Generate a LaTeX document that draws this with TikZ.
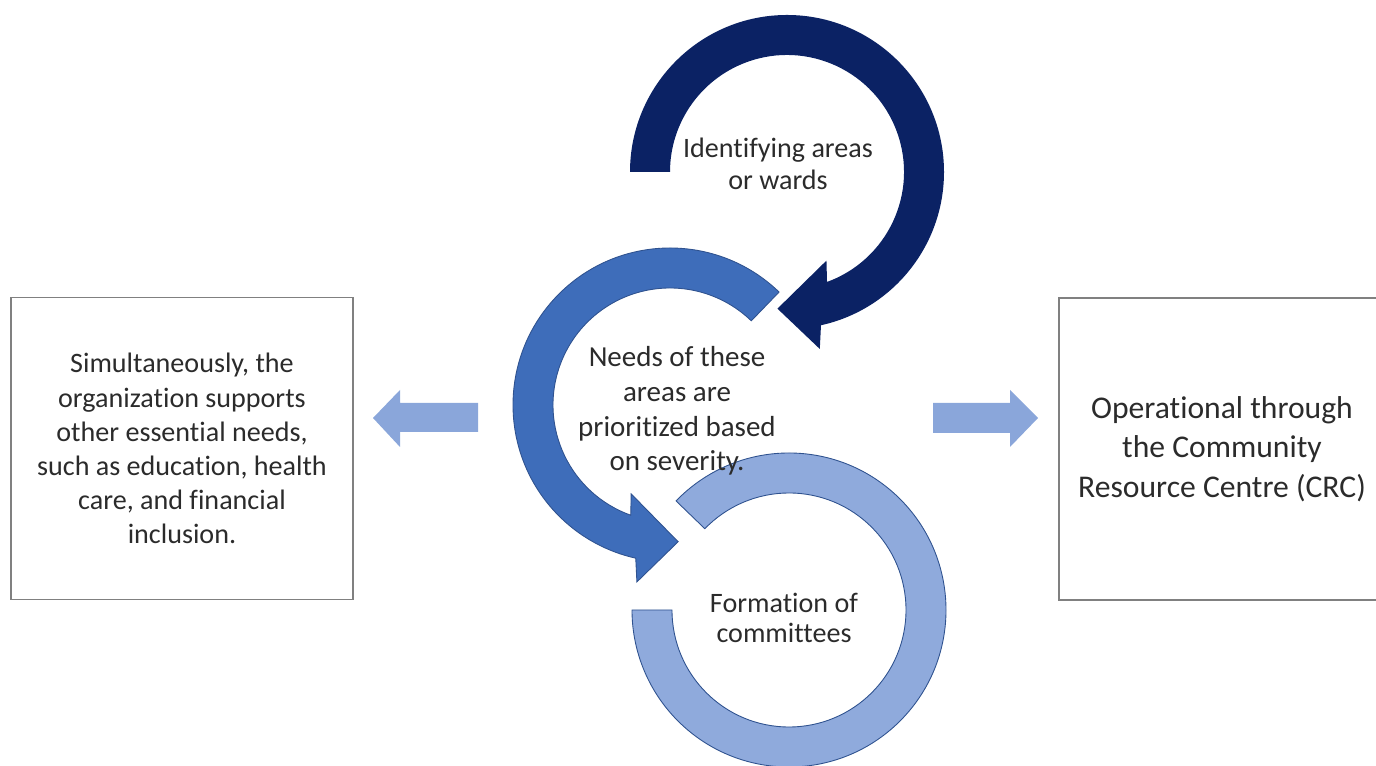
\documentclass[tikz,border=0pt]{standalone}
\usepackage{fontspec}
\setmainfont{Carlito}[Ligatures={NoCommon,NoDiscretionary}]
\definecolor{navy}{HTML}{0B2264}
\definecolor{midblue}{HTML}{3E6DBA}
\definecolor{lightblue}{HTML}{8FAADC}
\definecolor{arrowblue}{HTML}{8AA6DA}
\definecolor{ringline}{HTML}{2F528F}
\definecolor{boxgray}{HTML}{808080}
\definecolor{textgray}{HTML}{2B2B2B}
\begin{document}
\begin{tikzpicture}[x=0.02cm,y=0.02cm,
  ringtext/.style={align=center, text=textgray},
  infobox/.style={draw=boxgray, line width=0.8pt, align=center, text=textgray, minimum height=6.04cm}]
\clip (0,0) rectangle (1376,766);

\begin{scope}[shift={(789,156)}]
\filldraw [fill=lightblue, draw=ringline, line width=0.5pt] (136:157) arc [start angle=136, end angle=-180, radius=157]
  -- (180:117) arc [start angle=-180, end angle=136, radius=117] -- cycle;
\end{scope}

\begin{scope}[shift={(670,361)}]
\filldraw [fill=midblue, draw=ringline, line width=0.5pt] (46:157) arc [start angle=46, end angle=257.4, radius=157]
  -- (259.4:180) -- (273.4:137) -- (246.4:97) -- (250.4:117)
  arc [start angle=250.4, end angle=46, radius=117] -- cycle;
\end{scope}

\begin{scope}[shift={(787,594)}]
\fill [navy] (180:157) arc [start angle=180, end angle=-77.5, radius=157]
  -- (-79.5:180) -- (-94:137) -- (-66:97) -- (-70:117)
  arc [start angle=-70, end angle=180, radius=117] -- cycle;
\end{scope}

\node [ringtext, font=\fontsize{16}{18.5}\selectfont] (ident) at (778,602) {Identifying areas\\or wards};
\node [ringtext, font=\fontsize{16.5}{19.7}\selectfont] (needs) at (677,355) {Needs of these\\areas are\\prioritized based\\on severity.};
\node [ringtext, font=\fontsize{16}{17}\selectfont] (formation) at (784,148) {Formation of\\committees};

\node [infobox, minimum width=6.84cm, font=\fontsize{16}{19.4}\selectfont] (leftbox) at (182,317.5)
  {Simultaneously, the\\organization supports\\other essential needs,\\such as education, health\\care, and financial\\inclusion.};
\node [infobox, minimum width=6.52cm, font=\fontsize{18}{22.5}\selectfont] (rightbox) at (1222,317)
  {Operational through\\the Community\\Resource Centre (CRC)};

\fill [arrowblue] (478,363) -- (400,363) -- (400,376) -- (373,348) -- (400,319) -- (400,334) -- (478,334) -- cycle;
\fill [arrowblue] (933,363) -- (1010,363) -- (1010,376) -- (1038,348) -- (1010,319) -- (1010,333) -- (933,333) -- cycle;
\end{tikzpicture}
\end{document}
